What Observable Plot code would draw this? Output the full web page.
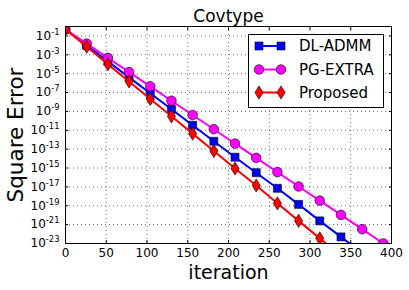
<!DOCTYPE html>
<html><head><meta charset="utf-8">
<script src="https://cdn.jsdelivr.net/npm/d3@7"></script>
<script src="https://cdn.jsdelivr.net/npm/@observablehq/plot@0.6"></script>
<style>
html,body{margin:0;padding:0;background:#fff;}
#wrap{position:relative;width:409px;height:290px;font-family:"DejaVu Sans";}
#legend{position:absolute;left:248px;top:34px;}
</style></head><body><div id="wrap"></div>
<script>
const title = "Covtype";
const xLabel = "iteration";
const yLabel = "Square Error";
const seriesNames = ["DL-ADMM", "PG-EXTRA", "Proposed"];
const seriesColors = ["#0000ff", "#ff00ff", "#ff0000"];
const markerIters = [0, 26, 52, 78, 104, 130, 156, 182, 208, 234, 260, 286, 312, 338, 364, 390];
const dladmm = [5.0e-1, 1.0e-2, 2.0e-4, 4.1e-6, 8.3e-8, 1.7e-9, 3.4e-11, 6.8e-13, 1.4e-14, 3.2e-16, 7.1e-18, 1.4e-19, 2.5e-21, 5.0e-23];
const pgextra = [5.0e-1, 1.55e-2, 4.7e-4, 1.45e-5, 4.5e-7, 1.35e-8, 4.2e-10, 1.3e-11, 3.9e-13, 1.2e-14, 3.7e-16, 1.1e-17, 3.5e-19, 1.07e-20, 3.3e-22, 1.0e-23];
const proposed = [5.0e-1, 7.2e-3, 1.0e-4, 1.5e-6, 2.1e-8, 3.0e-10, 4.4e-12, 6.3e-14, 8.9e-16, 1.4e-17, 1.8e-19, 2.5e-21, 3.5e-23];
const tailIters = [364, 400, 338];
const tailValues = [1.0e-24, 2.6e-24, 5.0e-25];
const xTicks = [0, 50, 100, 150, 200, 250, 300, 350, 400];
const yTicks = [1e-1, 1e-3, 1e-5, 1e-7, 1e-9, 1e-11, 1e-13, 1e-15, 1e-17, 1e-19, 1e-21, 1e-23];

// custom marker symbols (square, circle, thin diamond)
const squareSym = {draw(ctx, size) { const r = Math.sqrt(size / Math.PI); ctx.moveTo(-r, -r); ctx.lineTo(r, -r); ctx.lineTo(r, r); ctx.lineTo(-r, r); ctx.closePath(); }};
const circleSym = {draw(ctx, size) { const r = Math.sqrt(size / Math.PI); ctx.moveTo(r, 0); ctx.arc(0, 0, r, 0, 2 * Math.PI); ctx.closePath(); }};
const thinDiamondSym = {draw(ctx, size) { const r = Math.sqrt(size / Math.PI); ctx.moveTo(0, -r); ctx.lineTo(0.62 * r, 0); ctx.lineTo(0, r); ctx.lineTo(-0.62 * r, 0); ctx.closePath(); }};
const symbols = [squareSym, circleSym, thinDiamondSym];
const radii = [4, 4.8, 6.6];

const seriesValues = [dladmm, pgextra, proposed];
const marks = [];
const gridStyle = {stroke: "#000", strokeOpacity: 0.55, strokeWidth: 1, strokeDasharray: "1,3"};
marks.push(Plot.gridX(xTicks.slice(1, -1), gridStyle));
marks.push(Plot.gridY(yTicks.slice(0, -1), gridStyle));
seriesValues.forEach((vals, s) => {
  const pts = vals.map((v, i) => ({series: seriesNames[s], iter: markerIters[i], value: v}));
  const linePts = pts.concat([{series: seriesNames[s], iter: tailIters[s], value: tailValues[s]}]);
  marks.push(Plot.line(linePts, {x: "iter", y: "value", stroke: seriesColors[s], strokeWidth: 2, clip: true}));
  marks.push(Plot.dot(pts, {x: "iter", y: "value", symbol: symbols[s], r: radii[s], fill: seriesColors[s], stroke: "black", strokeWidth: 0.6, clip: true}));
});
marks.push(Plot.frame({stroke: "black", strokeWidth: 1}));
marks.push(Plot.axisX(xTicks, {anchor: "bottom", tickSize: 0, tickPadding: 5, fontSize: 12, label: null}));
marks.push(Plot.axisX(xTicks, {anchor: "bottom", tickSize: -3, tickFormat: () => "", label: null}));
marks.push(Plot.axisX(xTicks, {anchor: "top", tickSize: -3, tickFormat: () => "", label: null}));
marks.push(Plot.axisY(yTicks, {anchor: "left", tickSize: 0, tickPadding: 6, fontSize: 12, label: null, tickFormat: d => "10^" + Math.round(Math.log10(d))}));
marks.push(Plot.axisY(yTicks, {anchor: "left", tickSize: -3, tickFormat: () => "", label: null}));
marks.push(Plot.axisY(yTicks, {anchor: "right", tickSize: -3, tickFormat: () => "", label: null}));
marks.push(Plot.text([title], {frameAnchor: "top", text: d => d, dy: -5, textAnchor: "middle", lineAnchor: "bottom", fontSize: 17}));
marks.push(Plot.text([xLabel], {frameAnchor: "bottom", text: d => d, dy: 35, textAnchor: "middle", lineAnchor: "bottom", fontSize: 19}));
marks.push(Plot.text([yLabel], {frameAnchor: "left", text: d => d, dx: -49, rotate: -90, textAnchor: "middle", lineAnchor: "middle", fontSize: 21.5}));

const chart = Plot.plot({
  width: 409, height: 290,
  marginLeft: 65, marginRight: 18, marginTop: 26, marginBottom: 47,
  x: {domain: [0, 400]},
  y: {type: "log", domain: [1e-23, 1]},
  style: {fontFamily: "DejaVu Sans", color: "black", background: "white", overflow: "visible"},
  marks
});
document.getElementById("wrap").appendChild(chart);

// superscript exponents on y tick labels
d3.select(chart).selectAll("text").each(function() {
  const m = this.textContent.match(/^10\^(-?\d+)$/);
  if (!m) return;
  this.textContent = "10";
  const ts = document.createElementNS("http://www.w3.org/2000/svg", "tspan");
  ts.setAttribute("dy", "-5");
  ts.setAttribute("font-size", "8.4");
  ts.textContent = m[1];
  this.appendChild(ts);
});

// legend
const lg = d3.select("#wrap").append("svg").attr("id", "legend").attr("width", 137).attr("height", 75)
  .style("font-family", "DejaVu Sans");
lg.append("rect").attr("x", 0.5).attr("y", 0.5).attr("width", 135).attr("height", 73)
  .attr("fill", "white").attr("stroke", "black").attr("stroke-width", 1);
const rowY = [12, 35.5, 58.5];
seriesNames.forEach((name, s) => {
  const g = lg.append("g").attr("transform", `translate(0,${rowY[s]})`);
  g.append("line").attr("x1", 11).attr("x2", 33).attr("y1", 0).attr("y2", 0)
    .attr("stroke", seriesColors[s]).attr("stroke-width", 2);
  [11, 33].forEach(cx => {
    const p = d3.path();
    symbols[s].draw(p, radii[s] * radii[s] * Math.PI);
    g.append("path").attr("d", p.toString()).attr("transform", `translate(${cx},0)`)
      .attr("fill", seriesColors[s]).attr("stroke", "black").attr("stroke-width", 0.6);
  });
  g.append("text").attr("x", 51).attr("y", 0).attr("dy", "0.35em").attr("font-size", 15).text(name);
});
</script></body></html>
